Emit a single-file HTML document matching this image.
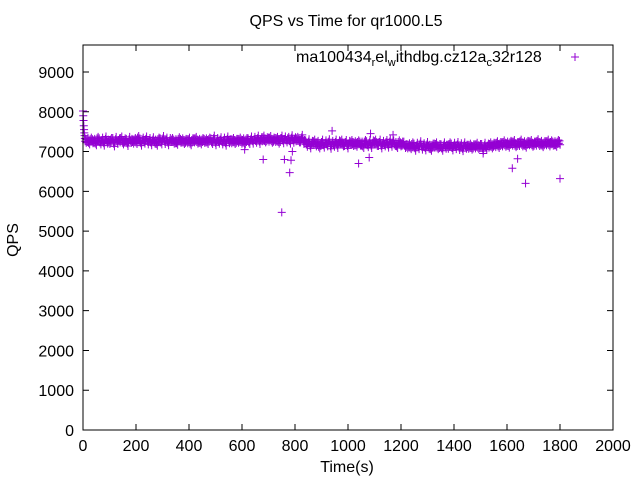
<!DOCTYPE html>
<html><head><meta charset="utf-8"><style>
body{margin:0;background:#fff;}
svg{display:block;font-family:"Liberation Sans",sans-serif;}
</style></head><body>
<svg id="chart" width="640" height="480">
<rect x="0" y="0" width="640" height="480" fill="#fff"/>
<text x="346" y="26" font-size="16" text-anchor="middle">QPS vs Time for qr1000.L5</text>
<g id="axes"></g>
<g id="pts" stroke="#9400d3" stroke-width="1" fill="none"></g>
<rect x="83" y="45" width="530" height="385" fill="none" stroke="#000" stroke-width="1"/>
<text x="18" y="240" font-size="16" text-anchor="middle" transform="rotate(-90 18 240)">QPS</text>
<text x="347" y="472" font-size="16" text-anchor="middle">Time(s)</text>
<g>
<text x="296" y="62" font-size="16">ma100434<tspan font-size="11" dy="4">r</tspan><tspan dy="-4">el</tspan><tspan font-size="11" dy="4">w</tspan><tspan dy="-4">ithdbg.cz12a</tspan><tspan font-size="11" dy="4">c</tspan><tspan dy="-4">32r128</tspan></text>
<path d="M571 57h8M575 53v8" stroke="#9400d3" stroke-width="1"/>
</g>
</svg>
<script>
const xTicks=[0,200,400,600,800,1000,1200,1400,1600,1800,2000];
const yTicks=[0,1000,2000,3000,4000,5000,6000,7000,8000,9000];
const startTimes=[0,1,2,3,4,5,6,7];
const startQps=[8020,7900,7780,7650,7550,7470,7400,7330];
const mainQps=[
7260,7300,7220,7310,7250,7280,7200,7330,7270,7240,7290,7210,7320,7260,7230,7300,7280,7190,7310,7250,
7270,7340,7220,7290,7260,7200,7310,7280,7240,7300,7230,7350,7270,7210,7290,7260,7320,7240,7280,7220,
7300,7260,7190,7310,7270,7240,7330,7250,7290,7220,7280,7300,7240,7270,7210,7320,7260,7290,7230,7280,
7250,7310,7200,7290,7270,7330,7240,7280,7220,7300,7260,7290,7230,7310,7270,7250,7340,7220,7280,7260,
7300,7240,7290,7210,7320,7270,7250,7300,7230,7280,7260,7310,7240,7290,7220,7300,7270,7250,7320,7260,
7310,7280,7340,7250,7300,7360,7270,7320,7290,7350,7260,7310,7280,7330,7240,7300,7340,7270,7320,7290,
7310,7260,7350,7280,7300,7330,7270,7290,7360,7250,7220,7180,7250,7140,7210,7260,7170,7230,7120,7200,
7240,7160,7220,7190,7250,7130,7210,7180,7240,7150,7220,7260,7170,7200,7230,7140,7210,7250,7180,7220,
7160,7240,7190,7210,7130,7250,7200,7170,7230,7150,7220,7260,7180,7200,7240,7140,7210,7190,7230,7160,
7250,7180,7220,7200,7130,7240,7170,7210,7190,7150,7120,7170,7100,7190,7140,7080,7160,7120,7200,7110,
7150,7090,7180,7130,7060,7160,7140,7190,7100,7150,7120,7080,7170,7130,7110,7190,7140,7090,7160,7120,
7180,7100,7150,7070,7170,7130,7110,7160,7090,7140,7120,7180,7100,7150,7130,7070,7160,7110,7140,7190,
7120,7180,7150,7220,7130,7200,7170,7240,7160,7210,7140,7230,7190,7250,7150,7200,7180,7260,7170,7220,
7140,7230,7200,7250,7160,7210,7190,7270,7180,7230,7150,7220,7200,7260,7170,7240,7190,7220,7160,7250,7210];
const outT=[610,680,750,760,780,785,790,940,1040,1080,1085,1170,1510,1620,1640,1670,1800];
const outQ=[7050,6800,5470,6800,6470,6780,7000,7520,6700,6850,7450,7420,6950,6580,6820,6200,6320];
const X0=83,X1=613,Y0=430,Y1=72;
const xs=t=>X0+t*(X1-X0)/2000;
const ys=q=>Y0-q*(Y0-Y1)/9000;
const NS="http://www.w3.org/2000/svg";
const axes=document.getElementById('axes');
const pts=document.getElementById('pts');
function el(tag,attrs,parent){const e=document.createElementNS(NS,tag);for(const k in attrs)e.setAttribute(k,attrs[k]);parent.appendChild(e);return e;}
xTicks.forEach(t=>{
  const x=xs(t);
  const tk=el('path',{d:`M${x} 430v-6M${x} 45v6`,stroke:'#000'},axes);
  
  
  const lb=el('text',{x:x,y:451,'font-size':16,'text-anchor':'middle'},axes);
  lb.textContent=t;
  
  
});
yTicks.forEach(q=>{
  const y=ys(q);
  const tk=el('path',{d:`M83 ${y}h6M613 ${y}h-6`,stroke:'#000'},axes);
  
  
  const lb=el('text',{x:74,y:y+6,'font-size':16,'text-anchor':'end'},axes);
  lb.textContent=q;
  
  
});
function plus(t,q){
  const x=xs(t),y=ys(q);
  const p=el('path',{d:`M${x-4} ${y}h8M${x} ${y-4}v8`},pts);
  
  
}
const step=(1796-8)/(mainQps.length-1);
startTimes.forEach((t,i)=>plus(t,startQps[i]));
mainQps.forEach((q,i)=>{
  const t=8+i*step;
  plus(t,q);
  plus(t+step/3,q+(i%2?-60:60));
  plus(t+2*step/3,q+(i%2?40:-40));
});
outT.forEach((t,i)=>plus(t,outQ[i]));
</script>
</body></html>
